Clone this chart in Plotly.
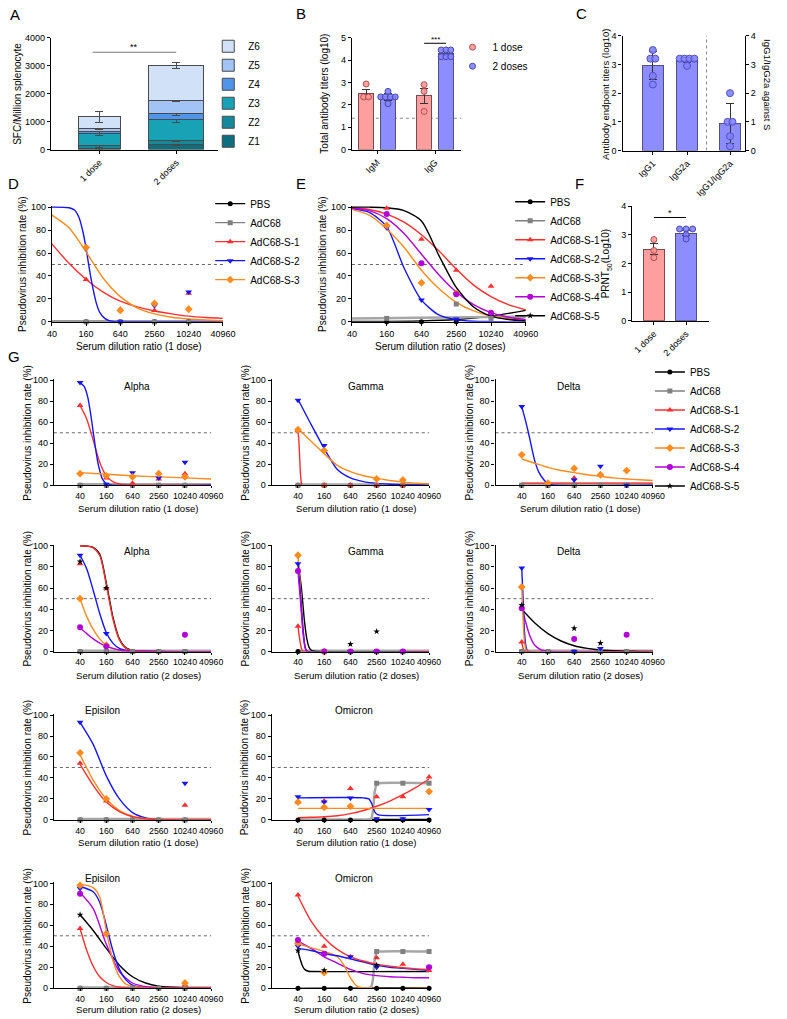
import math
import plotly.graph_objects as go

W, H = 787, 1019
FONT = "Liberation Sans, Arial, sans-serif"

# ===================== DATA =====================
# Panel A: stacked SFC per zone
ZONES = ["Z1", "Z2", "Z3", "Z4", "Z5", "Z6"]
A_GROUPS = ["1 dose", "2 doses"]
A_ONE_DOSE = [40, 100, 430, 60, 110, 430]
A_ONE_DOSE_ERR = [20, 70, 60, 40, 40, 200]
A_TWO_DOSES = [170, 150, 740, 235, 470, 1235]
A_TWO_DOSES_ERR = [30, 30, 90, 60, 60, 100]

# Panel B: total antibody titers
B_CATS = ["IgM", "IgG"]
B_ONE_DOSE_MEAN = [2.5, 2.4]
B_ONE_DOSE_SEM = [0.2, 0.35]
B_TWO_DOSES_MEAN = [2.35, 4.3]
B_TWO_DOSES_SEM = [0.15, 0.1]
B_ONE_DOSE_PTS = [[2.93, 2.35, 2.35], [2.9, 2.6, 1.7]]
B_TWO_DOSES_PTS = [[2.6, 2.35, 2.35, 2.35, 2.35, 2.05], [4.45, 4.45, 4.45, 4.15, 4.15, 4.15]]
B_CUTOFF = 1.4

# Panel C: IgG subclasses
C_CATS = ["IgG1", "IgG2a", "IgG1/IgG2a"]
C_MEAN = [2.96, 3.15, 0.93]
C_SD = [0.49, 0.1, 0.7]
C_PTS = [[3.5, 3.2, 3.2, 2.6, 2.3], [3.2, 3.2, 3.2, 3.2, 2.95], [2.0, 1.0, 1.0, 0.5, 0.15]]

# Panel F: PRNT50
F_GROUPS = ["1 dose", "2 doses"]
F_MEAN = [2.5, 3.05]
F_SEM = [0.18, 0.08]
F_PTS = [[2.83, 2.45, 2.2], [3.2, 3.2, 3.2, 3.0, 2.85]]

# Pseudovirus panels
DIL = [40, 160, 640, 2560, 10240, 40960]
DIL_TEXT = ["40", "160", "640", "2560", "10240", "40960"]
SERIES = ["PBS", "AdC68", "AdC68-S-1", "AdC68-S-2", "AdC68-S-3", "AdC68-S-4", "AdC68-S-5"]
X2 = [40, 80, 160, 320, 640, 1280, 2560, 5120, 10240, 20480, 40960]
FLAT = [40, 40960]

D_PTS = {
    "PBS": [0, 0, 0, 0, 0, None],
    "AdC68": [0, 0, 0, 0, 0, None],
    "AdC68-S-1": [71, 37, 11, 10, 25, None],
    "AdC68-S-2": [97, 64, 0, 14, 26, None],
    "AdC68-S-3": [90, 65, 10, 16, 11, None],
}
D_CURVES = {
    "PBS": (FLAT, [0.6, 0.6]),
    "AdC68": (FLAT, [0.3, 0.3]),
    "AdC68-S-1": (X2, [68, 51, 37, 26, 18, 13, 9.5, 7, 5, 3.8, 3]),
    "AdC68-S-2": ([40, 80, 100, 120, 140, 160, 180, 200, 240, 280, 340, 420, 520, 640, 40960],
                  [100, 99.5, 97.5, 91, 79, 64, 48, 35, 17, 8, 3, 0.8, 0.2, 0, 0]),
    "AdC68-S-3": (X2, [93, 82, 61, 38, 22, 12, 7, 4, 2.5, 1.6, 1]),
}

E_PTS = {
    "PBS": [0, 0, 0, 0, 6, None],
    "AdC68": [None, 3, None, 15.5, 3, None],
    "AdC68-S-1": [None, 99, 72, 45, 31, None],
    "AdC68-S-2": [99, 82, 19, 2.5, None, None],
    "AdC68-S-3": [98, 84, 34, 25, None, None],
    "AdC68-S-4": [None, 94, 51, 24, 8, None],
}
E_CURVES = {
    "PBS": ([40, 640, 2560, 10240, 40960], [0.3, 0.8, 2, 5, 10]),
    "AdC68": (FLAT, [3, 4.5]),
    "AdC68-S-1": (X2, [99.5, 98, 94, 87, 76, 62, 46, 32, 22, 15, 10.5]),
    "AdC68-S-2": (X2, [98.5, 95.5, 83, 47, 19, 6, 1.8, 0.5, 0.2, 0, 0]),
    "AdC68-S-3": (X2, [98, 93, 81, 65, 45, 29, 17, 9.5, 5, 2.7, 1.5]),
    "AdC68-S-4": (X2, [99, 97, 90, 77, 59, 41, 26, 15, 8, 4, 2]),
    "AdC68-S-5": (X2, [100, 100, 99.5, 97, 88, 58, 30, 13, 5, 2, 0.8]),
}

G1_ALPHA_PTS = {
    "PBS": [0, 0, 0, 0, 0, None], "AdC68": [0, 0, 0, 0, 0, None],
    "AdC68-S-1": [76, 7, 2, 6, 11, None], "AdC68-S-2": [98, 1, 12, 7, 22, None],
    "AdC68-S-3": [11, 9, 8, 11, 8, None],
}
G1_ALPHA_CURVES = {
    "PBS": (FLAT, [0.4, 0.4]), "AdC68": (FLAT, [1, 1]),
    "AdC68-S-1": ([40, 57, 80, 113, 160, 226, 320, 453, 640, 40960], [76, 63, 43, 22, 9, 3.5, 1.2, 0.4, 0.1, 0]),
    "AdC68-S-2": ([40, 50, 60, 70, 80, 90, 100, 113, 130, 160, 200, 40960],
                  [98, 94, 84, 68, 51, 36, 24, 14, 6, 1.5, 0.3, 0]),
    "AdC68-S-3": (DIL, [12, 10.5, 9, 8, 7, 6]),
}
G1_GAMMA_PTS = {
    "PBS": [0, 0, 0, 0, 0, None], "AdC68": [0, 0, 0, 0, 0, None],
    "AdC68-S-1": [52, 0, 0, 0, 0, None], "AdC68-S-2": [81, 38, None, None, None, None],
    "AdC68-S-3": [53, 33, None, 6, 5, None],
}
G1_GAMMA_CURVES = {
    "PBS": (FLAT, [0.4, 0.4]), "AdC68": (FLAT, [0.8, 0.8]),
    "AdC68-S-1": ([40, 42, 44, 46, 48, 50, 40960], [52, 42, 24, 9, 2, 0, 0]),
    "AdC68-S-2": (X2, [82, 58, 35, 15, 7, 3.5, 1.8, 1, 0.5, 0.2, 0]),
    "AdC68-S-3": (X2, [54, 42, 30, 19, 13, 9, 6.5, 4.5, 3, 2, 1.3]),
}
G1_DELTA_PTS = {
    "PBS": [0, 0, 0, 0, 0, None], "AdC68": [0, 0, 0, 0, 0, None],
    "AdC68-S-1": [None, None, 7, 10, None, None], "AdC68-S-2": [75, 1, 5, 18, 0, None],
    "AdC68-S-3": [29, 2, 16, 10, 14, None],
}
G1_DELTA_CURVES = {
    "PBS": (FLAT, [0.4, 0.4]), "AdC68": (FLAT, [1.5, 1.5]),
    "AdC68-S-1": (FLAT, [2, 2]),
    "AdC68-S-2": ([40, 50, 60, 70, 80, 100, 130, 160, 200, 40960], [75, 60, 46, 33, 23, 12, 5, 1.5, 0.3, 0]),
    "AdC68-S-3": (X2, [25, 21, 17, 14, 12, 10, 8.5, 7, 6, 5.2, 4.5]),
}
G2_ALPHA_PTS = {
    "PBS": [0, 0, 0, 0, 0, None], "AdC68": [0, 0, 0, 0, 0, None],
    "AdC68-S-1": [83, 60, None, None, None, None], "AdC68-S-2": [91, 17, None, None, None, None],
    "AdC68-S-3": [50, 6, None, None, None, None], "AdC68-S-4": [23, 5, None, None, 16, None],
    "AdC68-S-5": [85, 60, None, None, None, None],
}
G2_ALPHA_CURVES = {
    "PBS": (FLAT, [0.4, 0.4]), "AdC68": (FLAT, [0.8, 0.8]),
    "AdC68-S-5": ([40, 57, 80, 113, 160, 200, 226, 320, 453, 640, 40960], [100, 99.7, 98.5, 92, 65, 44, 33, 12, 3.5, 1.2, 0]),
    "AdC68-S-1": ([40, 57, 80, 113, 160, 200, 226, 320, 453, 640, 40960], [100, 99.6, 98, 91, 63, 42, 31, 11, 3, 1, 0]),
    "AdC68-S-2": ([40, 57, 80, 113, 160, 226, 320, 453, 640, 40960], [91, 78, 58, 36, 18, 8, 3, 1, 0.3, 0]),
    "AdC68-S-3": ([40, 57, 80, 113, 160, 226, 320, 453, 40960], [50, 33, 21, 12, 6, 3, 1.2, 0.4, 0]),
    "AdC68-S-4": ([40, 57, 80, 113, 160, 226, 320, 640, 40960], [22, 17, 12, 8, 5, 3, 1.5, 0.3, 0]),
}
G2_GAMMA_PTS = {
    "PBS": [0, 0, 0, 0, 0, None], "AdC68": [None, 0, 0, 0, 0, None],
    "AdC68-S-1": [24, None, None, None, None, None], "AdC68-S-2": [83, 0, 0, 0, 0, None],
    "AdC68-S-3": [91, 0, None, None, None, None], "AdC68-S-4": [76, 0, 0, 0, 0, None],
    "AdC68-S-5": [None, None, 7, 19, None, None],
}
G2_GAMMA_CURVES = {
    "PBS": (FLAT, [0.4, 0.4]), "AdC68": (FLAT, [0.8, 0.8]),
    "AdC68-S-5": ([40, 48, 56, 64, 72, 80, 96, 40960], [85, 60, 30, 12, 4, 1.5, 0.3, 0]),
    "AdC68-S-3": ([40, 46, 52, 58, 64, 40960], [91, 58, 24, 5, 0.5, 0]),
    "AdC68-S-2": ([40, 46, 52, 58, 64, 40960], [83, 52, 22, 5, 0.5, 0]),
    "AdC68-S-4": ([40, 46, 52, 58, 64, 40960], [76, 46, 18, 4, 0.4, 0]),
    "AdC68-S-1": ([40, 44, 48, 52, 40960], [24, 11, 3, 0.3, 0]),
}
G2_DELTA_PTS = {
    "PBS": [0, 0, 0, 0, 0, None], "AdC68": [0, 0, 0, 0, 0, None],
    "AdC68-S-1": [9, None, None, None, None, None], "AdC68-S-2": [79, None, 0, 3, None, None],
    "AdC68-S-3": [61, None, None, None, None, None], "AdC68-S-4": [41, None, 12, None, 16, None],
    "AdC68-S-5": [44, None, 22, 8, None, None],
}
G2_DELTA_CURVES = {
    "PBS": (FLAT, [0.4, 0.4]), "AdC68": (FLAT, [0.8, 0.8]),
    "AdC68-S-5": (X2, [40, 27, 17, 10, 5.5, 3, 1.5, 0.8, 0.4, 0.2, 0.1]),
    "AdC68-S-4": ([40, 50, 60, 80, 113, 160, 226, 40960], [42, 27, 16, 6, 1.5, 0.4, 0, 0]),
    "AdC68-S-2": ([40, 43, 46, 50, 55, 40960], [79, 50, 20, 5, 0.5, 0]),
    "AdC68-S-3": ([40, 43, 46, 50, 55, 40960], [61, 30, 10, 2, 0.2, 0]),
    "AdC68-S-1": ([40, 43, 46, 50, 40960], [9, 3, 0.5, 0, 0]),
}
G3_EPS_PTS = {
    "PBS": [0, 0, 0, 0, 0, None], "AdC68": [0, 0, 0, 0, 0, None],
    "AdC68-S-1": [54, 18, None, None, 14, None], "AdC68-S-2": [93, None, None, None, 35, None],
    "AdC68-S-3": [64, 20, None, None, None, None],
}
G3_EPS_CURVES = {
    "PBS": (FLAT, [0.4, 0.4]), "AdC68": (FLAT, [0.8, 0.8]),
    "AdC68-S-2": (X2, [93, 72, 42, 20, 7, 2, 0.5, 0.2, 0, 0, 0]),
    "AdC68-S-3": (X2, [62, 38, 20, 9, 3.5, 1.2, 0.4, 0.1, 0, 0, 0]),
    "AdC68-S-1": (X2, [53, 33, 17, 8, 3, 1, 0.3, 0.1, 0, 0, 0]),
}
G3_OMI_PTS = {
    "PBS": [0, 0, 0, 0, 0, 0], "AdC68": [None, None, None, 35, 35, 35],
    "AdC68-S-1": [17, 18, 30, 22, 22, 41], "AdC68-S-2": [22, 17, 21, 1, 1, 10],
    "AdC68-S-3": [17, 12, 13, None, None, 27],
}
G3_OMI_CURVES = {
    "PBS": (FLAT, [0.4, 0.4]),
    "AdC68": ([40, 1600, 1900, 2100, 2300, 2560, 3000, 40960], [0, 0, 1, 8, 26, 34, 35, 35]),
    "AdC68-S-2": ([40, 1280, 1700, 2000, 2300, 2700, 40960], [21, 21, 20, 15, 8, 5, 5]),
    "AdC68-S-1": (X2, [2, 2.5, 3, 4, 6, 9, 13, 18, 24, 31, 39]),
    "AdC68-S-3": (FLAT, [11, 11]),
}
G4_EPS_PTS = {
    "PBS": [0, 0, 0, 0, 0, None], "AdC68": [0, 0, 0, 0, 0, None],
    "AdC68-S-1": [57, None, None, None, 3, None], "AdC68-S-2": [95, None, None, None, None, None],
    "AdC68-S-3": [98, 52, None, None, 5, None], "AdC68-S-4": [90, None, None, None, None, None],
    "AdC68-S-5": [70, None, None, None, None, None],
}
G4_EPS_CURVES = {
    "PBS": (FLAT, [0.4, 0.4]), "AdC68": (FLAT, [0.8, 0.8]),
    "AdC68-S-5": (X2, [70, 55, 38, 22, 11, 5, 2, 1, 0.5, 0.2, 0.1]),
    "AdC68-S-4": (X2, [91, 76, 42, 16, 5, 1.5, 0.4, 0, 0, 0, 0]),
    "AdC68-S-2": ([40, 80, 113, 160, 226, 320, 453, 640, 1280, 40960], [97, 92, 82, 60, 36, 18, 8, 3, 0.5, 0]),
    "AdC68-S-3": ([40, 80, 113, 160, 226, 320, 453, 640, 1280, 40960], [99, 96, 87, 55, 27, 11, 4, 2, 0.3, 0]),
    "AdC68-S-1": ([40, 57, 80, 113, 160, 226, 320, 640, 40960], [57, 36, 21, 11, 5.5, 2.5, 1, 0.2, 0]),
}
G4_OMI_PTS = {
    "PBS": [0, 0, 0, 0, 0, 0], "AdC68": [None, None, None, 35, 35, 35],
    "AdC68-S-1": [89, 40, 30, 29, 23, 17], "AdC68-S-2": [40, 33, 30, 20, None, 20],
    "AdC68-S-3": [43, 15, None, None, None, None], "AdC68-S-4": [46, 33, None, None, None, 20],
    "AdC68-S-5": [36, 17, None, 22, None, None],
}
G4_OMI_CURVES = {
    "PBS": (FLAT, [0.4, 0.4]),
    "AdC68": ([40, 1600, 1900, 2100, 2300, 2560, 3000, 40960], [0, 0, 1, 8, 26, 34, 35, 35]),
    "AdC68-S-5": ([40, 50, 57, 70, 80, 40960], [35, 22, 18, 16.2, 16, 16]),
    "AdC68-S-4": (X2, [45, 38, 30, 24, 18, 14, 12, 11, 10.5, 10, 10]),
    "AdC68-S-3": ([40, 160, 320, 453, 640, 905, 1280, 40960], [42, 35, 30, 22, 10, 2, 0.2, 0]),
    "AdC68-S-2": (X2, [38, 36, 33, 31, 28, 25, 22, 20, 19, 18, 17]),
    "AdC68-S-1": (X2, [88, 64, 48, 37, 30, 26, 23, 21, 19.5, 18.5, 18]),
}

# ===================== STYLE =====================
A_COLORS = ["#0d6e7e", "#138a9b", "#17a2b5", "#4f95ea", "#a2c3f5", "#d0e1f8"]
PINK, PINK_EDGE, PINK_PT = "#ff9e9e", "#7a4a4a", "rgba(255,150,150,0.9)"
VIOLET, VIOLET_EDGE, VIOLET_PT = "#8d8dff", "#50507a", "rgba(130,130,255,0.9)"
STYLE = {
    "PBS": dict(color="#000000", line="#000000", symbol="circle", size=5, width=1.4),
    "AdC68": dict(color="#808080", line="#a6a6a6", symbol="square", size=5, width=2.5),
    "AdC68-S-1": dict(color="#ff2f2f", line="#ff2f2f", symbol="triangle-up", size=6, width=1.4),
    "AdC68-S-2": dict(color="#1414ff", line="#1414ff", symbol="triangle-down", size=6, width=1.4),
    "AdC68-S-3": dict(color="#ff8a1e", line="#ff8a1e", symbol="diamond", size=6, width=1.4),
    "AdC68-S-4": dict(color="#b400d8", line="#b400d8", symbol="circle", size=6, width=1.4),
    "AdC68-S-5": dict(color="#000000", line="#000000", symbol="star", size=5, width=1.4),
}

BASE = dict(showline=True, linecolor="black", linewidth=1.3, ticks="outside", ticklen=3,
            tickwidth=1.2, tickcolor="black", showgrid=False, zeroline=False, fixedrange=True,
            tickfont=dict(size=9, family=FONT, color="black"))

layout = dict(width=W, height=H, margin=dict(l=0, r=0, t=0, b=0), paper_bgcolor="white",
              plot_bgcolor="white", font=dict(family=FONT, size=10, color="black"),
              barmode="stack", showlegend=True, shapes=[], annotations=[])
traces = []
counter = [0]


def new_id():
    counter[0] += 1
    return "" if counter[0] == 1 else str(counter[0])


def axes(x0, x1, top, bottom, xkw, ykw):
    s = new_id()
    layout["xaxis" + s] = {**BASE, "domain": [x0 / W, x1 / W], "anchor": "y" + s, **xkw}
    layout["yaxis" + s] = {**BASE, "domain": [1 - bottom / H, 1 - top / H], "anchor": "x" + s, **ykw}
    return "x" + s, "y" + s


def note(x, y, s, size=10, angle=0, xanchor="center", yanchor="middle"):
    layout["annotations"].append(dict(x=x / W, y=1 - y / H, xref="paper", yref="paper", text=s,
                                      showarrow=False, textangle=angle, xanchor=xanchor,
                                      yanchor=yanchor, font=dict(size=size, family=FONT, color="black")))


def data_note(xa, ya, x, y, s, size=9):
    layout["annotations"].append(dict(x=x, y=y, xref=xa, yref=ya, text=s, showarrow=False,
                                      font=dict(size=size, family=FONT, color="black")))


def hline(xa, ya, y, color="#666", dash="dot", width=1):
    layout["shapes"].append(dict(type="line", xref=xa + " domain", x0=0, x1=1, yref=ya, y0=y, y1=y,
                                 line=dict(color=color, width=width, dash=dash), layer="below"))


def seg(xa, ya, x0, x1, y0, y1, color="black", width=1, dash="solid"):
    layout["shapes"].append(dict(type="line", xref=xa, yref=ya, x0=x0, x1=x1, y0=y0, y1=y1,
                                 line=dict(color=color, width=width, dash=dash)))


def jitter(vals, step):
    groups = {}
    for v in vals:
        groups[round(v, 2)] = groups.get(round(v, 2), 0) + 1
    seen = {}
    out = []
    for v in vals:
        k = round(v, 2)
        i = seen.get(k, 0)
        seen[k] = i + 1
        out.append((i - (groups[k] - 1) / 2) * step)
    return out


def add_curves(xa, ya, curves):
    for name, (xs, ys) in curves.items():
        st = STYLE[name]
        traces.append(go.Scatter(x=xs, y=ys, mode="lines", xaxis=xa, yaxis=ya, showlegend=False,
                                 hoverinfo="skip",
                                 line=dict(color=st["line"], width=st["width"], shape="spline", smoothing=0.7)))


def add_points(xa, ya, pts):
    for name, vals in pts.items():
        st = STYLE[name]
        xs = [d for d, v in zip(DIL, vals) if v is not None]
        ys = [v for v in vals if v is not None]
        traces.append(go.Scatter(x=xs, y=ys, mode="markers", xaxis=xa, yaxis=ya, showlegend=False,
                                 hoverinfo="skip", cliponaxis=False,
                                 marker=dict(symbol=st["symbol"], size=st["size"], color=st["color"])))


def legend_entries(xa, ya, names, lid):
    for name in names:
        st = STYLE[name]
        traces.append(go.Scatter(x=[None], y=[None], mode="lines+markers", name=name, legend=lid,
                                 xaxis=xa, yaxis=ya,
                                 line=dict(color=st["line"] if name != "AdC68" else "#808080", width=1.4),
                                 marker=dict(symbol=st["symbol"], size=st["size"], color=st["color"])))


def legend_box(x, top):
    return dict(x=x / W, y=1 - top / H, xanchor="left", yanchor="top", bgcolor="rgba(0,0,0,0)",
                font=dict(size=10, family=FONT, color="black"), tracegroupgap=0, itemwidth=30)


LOGX = dict(type="log", tickvals=DIL, ticktext=DIL_TEXT, tickangle=0)
PCT_Y = dict(range=[0, 101], tickvals=[0, 20, 40, 60, 80, 100])
PV_TITLE = "Pseudovirus inhibition rate (%)"

# ===================== A =====================
xa, ya = axes(47, 218, 33, 146,
              dict(range=[-0.5, 1.5], tickvals=[0.08, 1.0], ticktext=A_GROUPS, tickangle=-45),
              dict(range=[0, 4000], tickvals=[0, 1000, 2000, 3000, 4000]))
for i, z in enumerate(ZONES):
    traces.append(go.Bar(x=[0.08, 1.0], y=[A_ONE_DOSE[i], A_TWO_DOSES[i]], width=[0.5, 0.66], name=z,
                         legend="legend", xaxis=xa, yaxis=ya, hoverinfo="skip",
                         marker=dict(color=A_COLORS[i], line=dict(color="#4a4a4a", width=1)),
                         error_y=dict(type="data", array=[A_ONE_DOSE_ERR[i], A_TWO_DOSES_ERR[i]],
                                      color="#4a4a4a", thickness=1, width=4)))
seg(xa, ya, 0.0, 1.0, 3480, 3480, color="#777")
data_note(xa, ya, 0.5, 3680, "**")
layout["legend"] = {**legend_box(208, 27), "traceorder": "reversed"}
note(12, 90, "SFC/Million splenocyte", angle=-90)
note(10, 10, "A", size=15)

# ===================== B =====================
xb, yb = axes(355, 467, 33, 146,
              dict(range=[0, 5], tickvals=[1.15, 3.8], ticktext=B_CATS, tickangle=-45),
              dict(range=[0, 5], tickvals=[0, 1, 2, 3, 4, 5]))
B_POS1, B_POS2 = [0.65, 3.3], [1.65, 4.3]
hline(xb, yb, B_CUTOFF, color="#888")
traces.append(go.Bar(x=B_POS1, y=B_ONE_DOSE_MEAN, width=0.7, xaxis=xb, yaxis=yb, showlegend=False,
                     hoverinfo="skip", marker=dict(color=PINK, line=dict(color=PINK_EDGE, width=1)),
                     error_y=dict(type="data", array=B_ONE_DOSE_SEM, color="#333", thickness=1, width=4)))
traces.append(go.Bar(x=B_POS2, y=B_TWO_DOSES_MEAN, width=0.7, xaxis=xb, yaxis=yb, showlegend=False,
                     hoverinfo="skip", marker=dict(color=VIOLET, line=dict(color=VIOLET_EDGE, width=1)),
                     error_y=dict(type="data", array=B_TWO_DOSES_SEM, color="#333", thickness=1, width=4)))
for pos, pts_list, fill, edge in [(B_POS1, B_ONE_DOSE_PTS, PINK_PT, "#b05050"),
                                  (B_POS2, B_TWO_DOSES_PTS, VIOLET_PT, "#4848b0")]:
    for c, vals in zip(pos, pts_list):
        traces.append(go.Scatter(x=[c + j for j in jitter(vals, 0.22)], y=vals, mode="markers",
                                 xaxis=xb, yaxis=yb, showlegend=False, hoverinfo="skip", cliponaxis=False,
                                 marker=dict(size=6, color=fill, line=dict(color=edge, width=1))))
for name, fill, edge in [("1 dose", PINK_PT, "#b05050"), ("2 doses", VIOLET_PT, "#4848b0")]:
    traces.append(go.Scatter(x=[None], y=[None], mode="markers", name=name, legend="legend2",
                             xaxis=xb, yaxis=yb, marker=dict(size=6, color=fill, line=dict(color=edge, width=1))))
seg(xb, yb, 3.3, 4.3, 4.75, 4.75)
data_note(xb, yb, 3.8, 4.9, "***", size=8)
layout["legend2"] = legend_box(458, 28)
note(327, 90, "Total antibody titers (log10)", angle=-90)
note(303, 9, "B", size=15)

# ===================== C =====================
xc, yc = axes(632, 757, 31, 147,
              dict(range=[0, 5], tickvals=[1.24, 2.64, 4.4], ticktext=C_CATS, tickangle=-45),
              dict(range=[0, 4], tickvals=[0, 1, 2, 3, 4]))
s = new_id()
layout["yaxis" + s] = {**BASE, "domain": [1 - 147 / H, 1 - 31 / H], "anchor": xc, "overlaying": yc,
                       "side": "right", "range": [0, 4], "tickvals": [0, 1, 2, 3, 4]}
yc2 = "y" + s
C_POS = [1.24, 2.64, 4.4]
for k in range(3):
    yax = yc if k < 2 else yc2
    traces.append(go.Bar(x=[C_POS[k]], y=[C_MEAN[k]], width=0.85, xaxis=xc, yaxis=yax, showlegend=False,
                         hoverinfo="skip", marker=dict(color=VIOLET, line=dict(color=VIOLET_EDGE, width=1)),
                         error_y=dict(type="data", array=[C_SD[k]], color="#333", thickness=1, width=4)))
    traces.append(go.Scatter(x=[C_POS[k] + j for j in jitter(C_PTS[k], 0.2)], y=C_PTS[k], mode="markers",
                             xaxis=xc, yaxis=yax, showlegend=False, hoverinfo="skip", cliponaxis=False,
                             marker=dict(size=7, color=VIOLET_PT, line=dict(color="#5050c0", width=1))))
seg(xc, yc, 3.44, 3.44, 0, 4, color="#888", dash="dot")
note(614, 90, "Antibody endpoint titers (log10)", size=9.5, angle=-90)
note(781, 80, "IgG1/IgG2a against S", size=9.5, angle=90)
note(590, 9, "C", size=15)

# ===================== D =====================
xd, yd = axes(48, 223, 203, 320, dict(range=[math.log10(40), math.log10(40960)], **LOGX), PCT_Y)
hline(xd, yd, 50)
add_curves(xd, yd, D_CURVES)
add_points(xd, yd, D_PTS)
legend_entries(xd, yd, SERIES[:5], "legend3")
layout["legend3"] = legend_box(210, 186)
note(18, 262, PV_TITLE, angle=-90)
note(137, 345, "Serum dilution ratio (1 dose)")
note(9, 180, "D", size=15)

# ===================== E =====================
xe, ye = axes(355, 533, 203, 320, dict(range=[math.log10(40), math.log10(40960)], **LOGX), PCT_Y)
hline(xe, ye, 50)
add_curves(xe, ye, E_CURVES)
add_points(xe, ye, E_PTS)
legend_entries(xe, ye, SERIES, "legend4")
layout["legend4"] = legend_box(517, 184)
note(325, 262, PV_TITLE, angle=-90)
note(446, 345, "Serum dilution ratio (2 doses)")
note(303, 180, "E", size=15)

# ===================== F =====================
xf, yf = axes(642, 720, 203, 319,
              dict(range=[0, 3.5], tickvals=[0.99, 2.47], ticktext=F_GROUPS, tickangle=-45),
              dict(range=[0, 4], tickvals=[0, 1, 2, 3, 4]))
F_POS = [0.99, 2.47]
for k, (fill, edge, ptc, pte) in enumerate([(PINK, PINK_EDGE, PINK_PT, "#b05050"),
                                            (VIOLET, VIOLET_EDGE, VIOLET_PT, "#4848b0")]):
    traces.append(go.Bar(x=[F_POS[k]], y=[F_MEAN[k]], width=0.98, xaxis=xf, yaxis=yf, showlegend=False,
                         hoverinfo="skip", marker=dict(color=fill, line=dict(color=edge, width=1)),
                         error_y=dict(type="data", array=[F_SEM[k]], color="#333", thickness=1, width=4)))
    traces.append(go.Scatter(x=[F_POS[k] + j for j in jitter(F_PTS[k], 0.3)], y=F_PTS[k], mode="markers",
                             xaxis=xf, yaxis=yf, showlegend=False, hoverinfo="skip", cliponaxis=False,
                             marker=dict(size=6, color=ptc, line=dict(color=pte, width=1))))
seg(xf, yf, 0.99, 2.47, 3.6, 3.6)
data_note(xf, yf, 1.73, 3.75, "*", size=9)
note(616, 261, "PRNT<sub>50</sub>(Log10)", angle=-90)
note(588, 180, "F", size=15)

# ===================== G =====================
ROWS = [(378, 485), (545, 653), (716, 823), (886, 993)]
COLS = [(50, 211), (273, 434), (502, 663)]
G_PANELS = [
    ("Alpha", 0, 0, "1 dose", G1_ALPHA_PTS, G1_ALPHA_CURVES),
    ("Gamma", 0, 1, "1 dose", G1_GAMMA_PTS, G1_GAMMA_CURVES),
    ("Delta", 0, 2, "1 dose", G1_DELTA_PTS, G1_DELTA_CURVES),
    ("Alpha", 1, 0, "2 doses", G2_ALPHA_PTS, G2_ALPHA_CURVES),
    ("Gamma", 1, 1, "2 doses", G2_GAMMA_PTS, G2_GAMMA_CURVES),
    ("Delta", 1, 2, "2 doses", G2_DELTA_PTS, G2_DELTA_CURVES),
    ("Episilon", 2, 0, "1 dose", G3_EPS_PTS, G3_EPS_CURVES),
    ("Omicron", 2, 1, "1 dose", G3_OMI_PTS, G3_OMI_CURVES),
    ("Episilon", 3, 0, "2 doses", G4_EPS_PTS, G4_EPS_CURVES),
    ("Omicron", 3, 1, "2 doses", G4_OMI_PTS, G4_OMI_CURVES),
]
TITLE_FRAC = {"Alpha": 0.53, "Gamma": 0.6, "Delta": 0.47, "Episilon": 0.31, "Omicron": 0.52}
XTITLE_GAP = [23, 24, 23, 21]
G_TICKS = {**LOGX, "ticklen": 2, "tickfont": dict(size=8.7, family=FONT, color="black")}
for title, r, c, dose, pts, curves in G_PANELS:
    top, bottom = ROWS[r]
    x0, x1 = COLS[c]
    xg, yg = axes(x0, x1, top, bottom, dict(range=[1, math.log10(40960)], **G_TICKS), PCT_Y)
    hline(xg, yg, 50)
    add_curves(xg, yg, curves)
    add_points(xg, yg, pts)
    ty = top + 7 if r < 2 else top - 4
    note(x0 + TITLE_FRAC[title] * (x1 - x0), ty, title)
    note(x0 - 27, (top + bottom) / 2, PV_TITLE, angle=-90)
    note((x0 + x1) / 2 + 6, bottom + XTITLE_GAP[r], f"Serum dilution ratio ({dose})", size=9.6)
    if r == 0 and c == 2:
        legend_entries(xg, yg, SERIES, "legend5")
layout["legend5"] = legend_box(660, 356)
note(9, 355, "G", size=15)

fig = go.Figure(data=traces, layout=layout)
fig.write_html("out.html", config={"displayModeBar": False},
               post_script="document.body.style.margin='0px';document.body.style.overflow='hidden';")
